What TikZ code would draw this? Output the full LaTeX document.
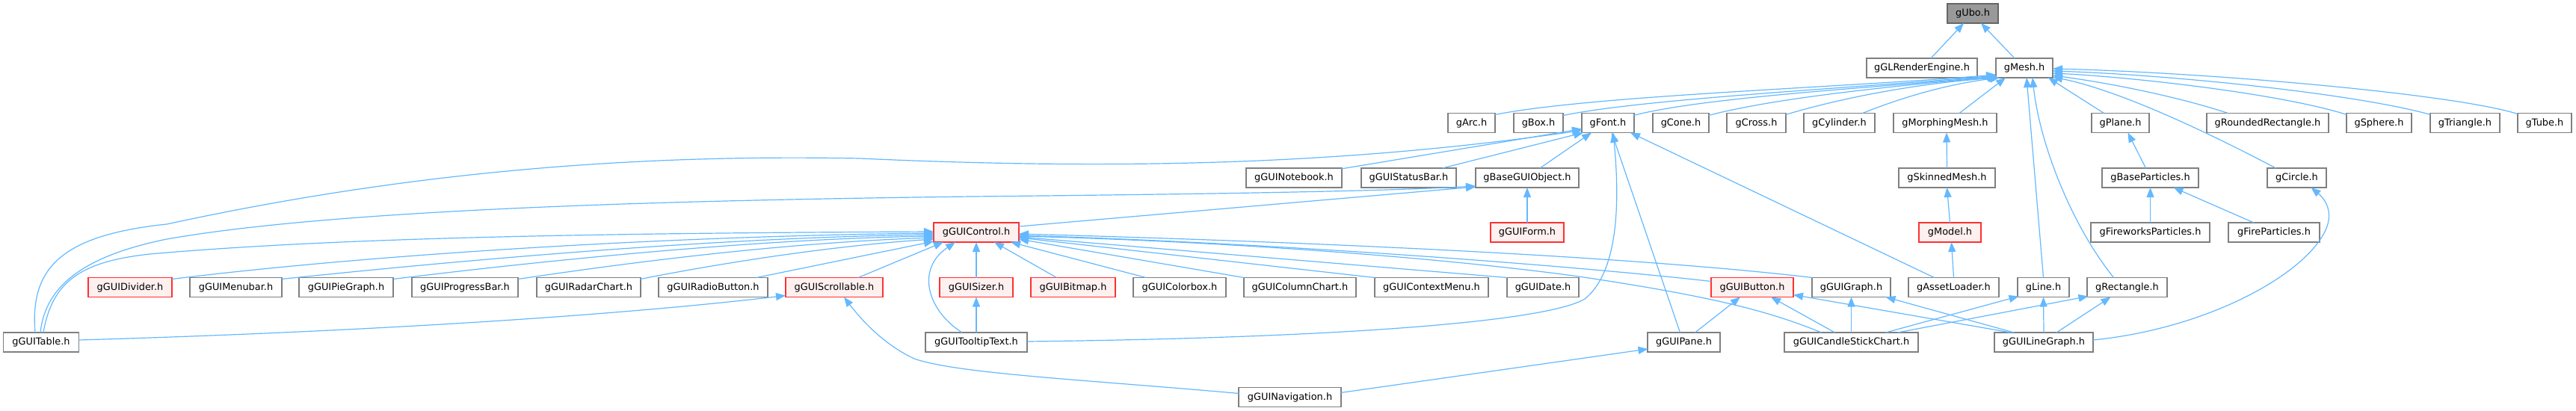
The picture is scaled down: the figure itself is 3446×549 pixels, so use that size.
\documentclass[tikz,border=0pt]{standalone}
\usepackage{fontspec}
\setmainfont{DejaVu Sans}
\usetikzlibrary{arrows.meta,calc}
\definecolor{edgec}{HTML}{63B8FF}
\definecolor{boxgray}{HTML}{7F7F7F}
\definecolor{redc}{HTML}{FF3030}
\definecolor{redfill}{HTML}{FFF0F0}
\definecolor{topfill}{HTML}{999999}
\definecolor{topdraw}{HTML}{666666}
\begin{document}
\begin{tikzpicture}[x=1pt,y=-1pt,
  box/.style={draw=boxgray, line width=1.4pt, fill=white, minimum height=26pt, inner sep=0pt, font=\fontsize{12.9}{14}\selectfont, text=black},
  redbox/.style={box, draw=redc, fill=redfill},
  topbox/.style={box, draw=topdraw, fill=topfill},
  edge/.style={draw=edgec, line width=1.2pt, -{Triangle[length=13pt,width=10pt]}},
]
\useasboundingbox (0,0) rectangle (3446,549);
% row 1-2
\node[topbox, minimum width=68pt] (gUbo) at (2639,18) {gUbo.h};
\node[box, minimum width=148pt] (gGLRenderEngine) at (2571,91) {gGLRenderEngine.h};
\node[box, minimum width=76pt] (gMesh) at (2708,91) {gMesh.h};
% row 3
\node[box, minimum width=63pt] (gArc) at (1968.5,164.5) {gArc.h};
\node[box, minimum width=66pt] (gBox) at (2058,164.5) {gBox.h};
\node[box, minimum width=70pt] (gFont) at (2151,164.5) {gFont.h};
\node[box, minimum width=75pt] (gCone) at (2248.5,164.5) {gCone.h};
\node[box, minimum width=79pt] (gCross) at (2349.5,164.5) {gCross.h};
\node[box, minimum width=95pt] (gCylinder) at (2460.5,164.5) {gCylinder.h};
\node[box, minimum width=138pt] (gMorphingMesh) at (2602,164.5) {gMorphingMesh.h};
\node[box, minimum width=77pt] (gPlane) at (2836.5,164.5) {gPlane.h};
\node[box, minimum width=163pt] (gRoundedRectangle) at (3033.5,164.5) {gRoundedRectangle.h};
\node[box, minimum width=87pt] (gSphere) at (3182.5,164.5) {gSphere.h};
\node[box, minimum width=93pt] (gTriangle) at (3297.5,164.5) {gTriangle.h};
\node[box, minimum width=72pt] (gTube) at (3404,164.5) {gTube.h};
% row 4
\node[box, minimum width=128pt] (gGUINotebook) at (1731,238) {gGUINotebook.h};
\node[box, minimum width=127pt] (gGUIStatusBar) at (1884.5,238) {gGUIStatusBar.h};
\node[box, minimum width=138pt] (gBaseGUIObject) at (2043,238) {gBaseGUIObject.h};
\node[box, minimum width=129pt] (gSkinnedMesh) at (2604.5,238) {gSkinnedMesh.h};
\node[box, minimum width=129pt] (gBaseParticles) at (2876.5,238) {gBaseParticles.h};
\node[box, minimum width=79pt] (gCircle) at (3072.5,238) {gCircle.h};
% row 5
\node[redbox, minimum width=114pt] (gGUIControl) at (1306,311) {gGUIControl.h};
\node[redbox, minimum width=98pt] (gGUIForm) at (2043,311) {gGUIForm.h};
\node[redbox, minimum width=83pt] (gModel) at (2608.5,311) {gModel.h};
\node[box, minimum width=159pt] (gFireworksParticles) at (2876.5,311) {gFireworksParticles.h};
\node[box, minimum width=122pt] (gFireParticles) at (3042,311) {gFireParticles.h};
% row 6
\node[redbox, minimum width=112pt] (gGUIDivider) at (174,384.5) {gGUIDivider.h};
\node[box, minimum width=123pt] (gGUIMenubar) at (315.5,384.5) {gGUIMenubar.h};
\node[box, minimum width=126pt] (gGUIPieGraph) at (463,384.5) {gGUIPieGraph.h};
\node[box, minimum width=142pt] (gGUIProgressBar) at (622,384.5) {gGUIProgressBar.h};
\node[box, minimum width=139pt] (gGUIRadarChart) at (787.5,384.5) {gGUIRadarChart.h};
\node[box, minimum width=146pt] (gGUIRadioButton) at (954,384.5) {gGUIRadioButton.h};
\node[redbox, minimum width=130pt] (gGUIScrollable) at (1116,384.5) {gGUIScrollable.h};
\node[redbox, minimum width=98pt] (gGUISizer) at (1306,384.5) {gGUISizer.h};
\node[redbox, minimum width=113pt] (gGUIBitmap) at (1435.5,384.5) {gGUIBitmap.h};
\node[box, minimum width=124pt] (gGUIColorbox) at (1578,384.5) {gGUIColorbox.h};
\node[box, minimum width=150pt] (gGUIColumnChart) at (1739,384.5) {gGUIColumnChart.h};
\node[box, minimum width=152pt] (gGUIContextMenu) at (1915,384.5) {gGUIContextMenu.h};
\node[box, minimum width=96pt] (gGUIDate) at (2064,384.5) {gGUIDate.h};
\node[redbox, minimum width=110pt] (gGUIButton) at (2344,384.5) {gGUIButton.h};
\node[box, minimum width=105pt] (gGUIGraph) at (2476.5,384.5) {gGUIGraph.h};
\node[box, minimum width=121pt] (gAssetLoader) at (2613.5,384.5) {gAssetLoader.h};
\node[box, minimum width=69pt] (gLine) at (2733.5,384.5) {gLine.h};
\node[box, minimum width=107pt] (gRectangle) at (2845.5,384.5) {gRectangle.h};
% row 7
\node[box, minimum width=101pt] (gGUITable) at (55,458) {gGUITable.h};
\node[box, minimum width=136pt] (gGUITooltipText) at (1306,458) {gGUITooltipText.h};
\node[box, minimum width=97pt] (gGUIPane) at (2252.5,458) {gGUIPane.h};
\node[box, minimum width=179pt] (gGUICandleStickChart) at (2476.5,458) {gGUICandleStickChart.h};
\node[box, minimum width=132pt] (gGUILineGraph) at (2734,458) {gGUILineGraph.h};
% row 8
\node[box, minimum width=137pt] (gGUINavigation) at (1725.5,531.5) {gGUINavigation.h};

% edges to gUbo
\draw[edge] ($(gGLRenderEngine)+(12,-13)$) -- ($(gUbo)+(-12,13)$);
\draw[edge] ($(gMesh)+(-13,-13)$) -- ($(gUbo)+(11,13)$);
% edges to gMesh
\draw[edge] ($(gArc)+(31,-11)$) .. controls (2130,128) and (2450,118) .. ($(gMesh)+(-38,9)$);
\draw[edge] ($(gBox)+(33,-10)$) .. controls (2200,132) and (2480,118) .. ($(gMesh)+(-38,10)$);
\draw[edge] ($(gFont)+(34,-10)$) .. controls (2280,130) and (2500,118) .. ($(gMesh)+(-37,11)$);
\draw[edge] ($(gCone)+(37,-10)$) .. controls (2370,132) and (2530,115) .. ($(gMesh)+(-36,12)$);
\draw[edge] ($(gCross)+(39,-11)$) .. controls (2460,132) and (2560,112) .. ($(gMesh)+(-35,13)$);
\draw[edge] ($(gCylinder)+(31,-13)$) .. controls (2550,128) and (2610,112) .. ($(gMesh)+(-33,13)$);
\draw[edge] ($(gMorphingMesh)+(19,-13)$) -- ($(gMesh)+(-25,13)$);
\draw[edge] ($(gLine)+(0,-13)$) -- ($(gMesh)+(3,13)$);
\draw[edge] ($(gRectangle)+(-18,-13)$) .. controls (2770,300) and (2728,190) .. ($(gMesh)+(11,13)$);
\draw[edge] ($(gPlane)+(-22,-13)$) -- ($(gMesh)+(32,13)$);
\draw[edge] ($(gRoundedRectangle)+(-53,-13)$) .. controls (2900,125) and (2800,108) .. ($(gMesh)+(38,10)$);
\draw[edge] ($(gSphere)+(-43,-11)$) .. controls (3050,125) and (2850,103) .. ($(gMesh)+(38,7)$);
\draw[edge] ($(gTriangle)+(-46,-11)$) .. controls (3150,125) and (2900,100) .. ($(gMesh)+(38,4)$);
\draw[edge] ($(gTube)+(-36,-12)$) .. controls (3280,125) and (2950,97) .. ($(gMesh)+(38,1)$);
\draw[edge] ($(gCircle)+(-28,-13)$) .. controls (2940,170) and (2830,120) .. ($(gMesh)+(38,12)$);
% edges to gFont
\draw[edge] ($(gGUINotebook)+(63,-12)$) -- ($(gFont)+(-35,8)$);
\draw[edge] ($(gGUIStatusBar)+(45,-13)$) -- ($(gFont)+(-33,13)$);
\draw[edge] ($(gBaseGUIObject)+(17,-13)$) -- ($(gFont)+(-22,13)$);
\draw[edge] ($(gGUIPane)+(-5,-13)$) -- ($(gFont)+(5,13)$);
\draw[edge] ($(gAssetLoader)+(-26,-13)$) -- ($(gFont)+(30,13)$);
\draw[edge] ($(gGUITooltipText)+(68,-1)$) .. controls (1800,452) and (2070,430) .. (2120,400) .. controls (2170,360) and (2165,250) .. ($(gFont)+(7,13)$);
\draw[edge] ($(gGUITable)+(-8,-13)$) .. controls (40,360) and (80,315) .. (223,300) .. controls (500,240) and (800,205) .. (1150,212) .. controls (1500,228) and (1800,220) .. ($(gFont)+(-35,10)$);
% edges to gBaseGUIObject
\draw[edge] ($(gGUIForm)+(0,-13)$) -- ($(gBaseGUIObject)+(0,13)$);
\draw[edge] ($(gGUIControl)+(57,-8)$) -- ($(gBaseGUIObject)+(-69,12)$);
\draw[edge] ($(gGUITable)+(-1,-13)$) .. controls (60,390) and (100,345) .. (223,320) .. controls (450,280) and (900,268) .. (1300,263) .. controls (1600,260) and (1850,256) .. ($(gBaseGUIObject)+(-69,11)$);
% edges to gGUIControl
\draw[edge] ($(gGUITable)+(3,-13)$) .. controls (70,375) and (110,350) .. (200,340) .. controls (450,318) and (800,312) .. ($(gGUIControl)+(-57,-1)$);
\draw[edge] ($(gGUIDivider)+(56,-11)$) .. controls (500,340) and (900,316) .. ($(gGUIControl)+(-57,1)$);
\draw[edge] ($(gGUIMenubar)+(61,-11)$) .. controls (600,350) and (950,318) .. ($(gGUIControl)+(-57,3)$);
\draw[edge] ($(gGUIPieGraph)+(63,-11)$) .. controls (700,352) and (1000,320) .. ($(gGUIControl)+(-57,5)$);
\draw[edge] ($(gGUIProgressBar)+(71,-11)$) .. controls (850,350) and (1050,325) .. ($(gGUIControl)+(-57,7)$);
\draw[edge] ($(gGUIRadarChart)+(69,-11)$) .. controls (950,355) and (1100,330) .. ($(gGUIControl)+(-57,9)$);
\draw[edge] ($(gGUIRadioButton)+(58,-13)$) -- ($(gGUIControl)+(-57,12)$);
\draw[edge] ($(gGUIScrollable)+(32,-13)$) -- ($(gGUIControl)+(-44,13)$);
\draw[edge] ($(gGUITooltipText)+(-19,-13)$) .. controls (1240,415) and (1225,360) .. ($(gGUIControl)+(-28,13)$);
\draw[edge] ($(gGUISizer)+(0,-13)$) -- ($(gGUIControl)+(0,13)$);
\draw[edge] ($(gGUIBitmap)+(-22,-13)$) -- ($(gGUIControl)+(24,13)$);
\draw[edge] ($(gGUIColorbox)+(-45,-13)$) -- ($(gGUIControl)+(46,13)$);
\draw[edge] ($(gGUIColumnChart)+(-75,-13)$) -- ($(gGUIControl)+(57,9)$);
\draw[edge] ($(gGUIContextMenu)+(-76,-13)$) -- ($(gGUIControl)+(57,7)$);
\draw[edge] ($(gGUIDate)+(-48,-13)$) -- ($(gGUIControl)+(57,6)$);
\draw[edge] ($(gGUIButton)+(-55,-8)$) .. controls (2100,355) and (1700,325) .. ($(gGUIControl)+(57,4)$);
\draw[edge] ($(gGUIGraph)+(-52,-13)$) .. controls (2200,345) and (1800,325) .. ($(gGUIControl)+(57,2)$);
\draw[edge] ($(gGUICandleStickChart)+(-40,-13)$) .. controls (2370,418) and (2300,398) .. (2112,370) .. controls (1900,341) and (1600,322) .. ($(gGUIControl)+(57,5)$);
% gGUISizer
\draw[edge] ($(gGUITooltipText)+(0,-13)$) -- ($(gGUISizer)+(0,13)$);
% gGUIScrollable
\draw[edge] ($(gGUITable)+(50,-3)$) .. controls (450,445) and (800,425) .. ($(gGUIScrollable)+(-65,11)$);
\draw[edge] ($(gGUINavigation)+(-68,-5)$) .. controls (1450,508) and (1280,500) .. (1223,480) .. controls (1180,460) and (1150,425) .. ($(gGUIScrollable)+(13,13)$);
% gGUIPane
\draw[edge] ($(gGUINavigation)+(68,-6)$) -- ($(gGUIPane)+(-48,9)$);
% gGUIButton
\draw[edge] ($(gGUIPane)+(15,-13)$) -- ($(gGUIButton)+(-16,13)$);
\draw[edge] ($(gGUICandleStickChart)+(-22,-13)$) -- ($(gGUIButton)+(25,13)$);
\draw[edge] ($(gGUILineGraph)+(-44,-13)$) -- ($(gGUIButton)+(55,10)$);
% gGUIGraph
\draw[edge] ($(gGUICandleStickChart)+(0,-13)$) -- ($(gGUIGraph)+(0,13)$);
\draw[edge] ($(gGUILineGraph)+(-40,-13)$) -- ($(gGUIGraph)+(46,13)$);
% gLine, gRectangle, gCircle
\draw[edge] ($(gGUICandleStickChart)+(46,-13)$) -- ($(gLine)+(-33,12)$);
\draw[edge] ($(gGUILineGraph)+(0,-13)$) -- ($(gLine)+(0,13)$);
\draw[edge] ($(gGUICandleStickChart)+(62,-13)$) -- ($(gRectangle)+(-52,12)$);
\draw[edge] ($(gGUILineGraph)+(17,-13)$) -- ($(gRectangle)+(-22,13)$);
\draw[edge] ($(gGUILineGraph)+(66,-3)$) .. controls (2950,440) and (3080,370) .. (3110,310) .. controls (3125,280) and (3105,262) .. ($(gCircle)+(19,13)$);
% gModel chain, particles
\draw[edge] ($(gAssetLoader)+(0,-13)$) -- ($(gModel)+(2,13)$);
\draw[edge] ($(gModel)+(0,-13)$) -- ($(gSkinnedMesh)+(0,13)$);
\draw[edge] ($(gSkinnedMesh)+(0,-13)$) -- ($(gMorphingMesh)+(2,13)$);
\draw[edge] ($(gBaseParticles)+(-6,-13)$) -- ($(gPlane)+(10,13)$);
\draw[edge] ($(gFireworksParticles)+(0,-13)$) -- ($(gBaseParticles)+(0,13)$);
\draw[edge] ($(gFireParticles)+(-27,-13)$) -- ($(gBaseParticles)+(31,13)$);
\end{tikzpicture}
\end{document}
